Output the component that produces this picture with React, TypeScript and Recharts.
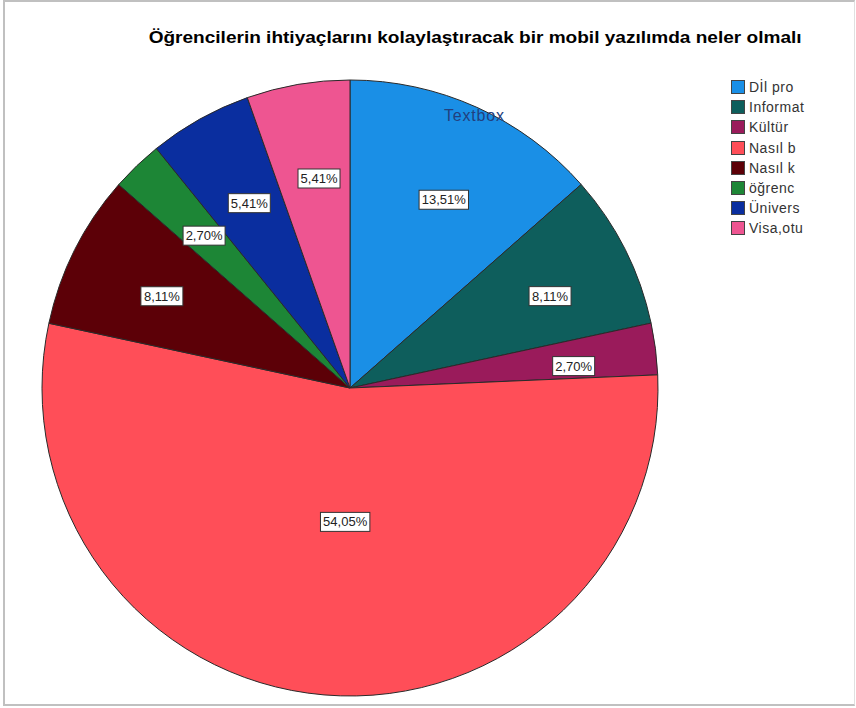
import React from "react";
import { PieChart, Pie, Cell, Legend } from "recharts";

const categories = ["Dİl pro", "Informat", "Kültür", "Nasıl b", "Nasıl k", "öğrenc", "Ünivers", "Visa,otu"];
const percents = [13.51, 8.11, 2.7, 54.05, 8.11, 2.7, 5.41, 5.41];
const colors = ["#1A8FE6", "#0E5E5C", "#9A1B5B", "#FF4E58", "#5C0007", "#1D8636", "#0A2E9F", "#EE5591"];
const title = "Öğrencilerin ihtiyaçlarını kolaylaştıracak bir mobil yazılımda neler olmalı";

const data = categories.map((name, i) => ({ name, value: percents[i] }));

const fmt = (v: number) => v.toFixed(2).replace(".", ",") + "%";

const RAD = Math.PI / 180;
const FONT = "Arial, 'Liberation Sans', sans-serif";

const renderLabel = (props: any) => {
  const { cx, cy, outerRadius, startAngle, endAngle, value } = props;
  const half = (Math.abs(endAngle - startAngle) / 2) * RAD;
  const mid = ((startAngle + endAngle) / 2) * RAD;
  const dist = ((2 * outerRadius * Math.sin(half)) / (3 * half)) * 1.07;
  const x = cx + dist * Math.cos(mid) + 6;
  const y = cy - dist * Math.sin(mid) + 6;
  const text = fmt(value);
  const w = text.length * 7.4 + 5;
  const h = 19;
  return (
    <g>
      <rect x={x - w / 2} y={y - h / 2} width={w} height={h} fill="#ffffff" stroke="#333333" strokeWidth={1} />
      <text x={x} y={y + 4.5} textAnchor="middle" fontSize={13} fontFamily={FONT} fill="#222222">
        {text}
      </text>
    </g>
  );
};

const renderLegend = () => (
  <div style={{ fontFamily: FONT, fontSize: 14, letterSpacing: 0.5, color: "#333" }}>
    {data.map((d, i) => (
      <div key={d.name} style={{ display: "flex", alignItems: "center", height: 20.2 }}>
        <div style={{ width: 12, height: 12, background: colors[i], border: "1px solid #444", marginRight: 4, flexShrink: 0 }} />
        <span style={{ whiteSpace: "nowrap" }}>{d.name}</span>
      </div>
    ))}
  </div>
);

export default function App() {
  return (
    <div
      style={{
        position: "absolute",
        left: 0,
        top: 0,
        width: 856,
        height: 708,
        background: "#fff",
        overflow: "hidden",
      }}
    >
      <div
        style={{
          position: "absolute",
          left: 3,
          top: 0,
          width: 852,
          height: 706,
          borderLeft: "2px solid #c0c0c0",
          borderTop: "2px solid #c0c0c0",
          borderBottom: "2px solid #c0c0c0",
          borderRight: "1px solid #e0e0e0",
          boxSizing: "border-box",
        }}
      />
      <div
        style={{
          position: "absolute",
          left: 0,
          width: 950,
          top: 28,
          textAlign: "center",
          fontFamily: FONT,
          fontWeight: "bold",
          fontSize: 17,
          color: "#000",
          transform: "scaleX(1.12)",
          transformOrigin: "474px 0",
        }}
      >
        {title}
      </div>
      <div style={{ position: "absolute", left: 0, top: 0 }}>
        <PieChart width={856} height={708} margin={{ top: 0, right: 0, bottom: 0, left: 0 }}>
          <Pie
            data={data}
            dataKey="value"
            nameKey="name"
            cx={350}
            cy={388}
            outerRadius={308}
            startAngle={90}
            endAngle={-270}
            stroke="#2a2a2a"
            strokeWidth={1}
            label={renderLabel}
            labelLine={false}
            isAnimationActive={false}
          >
            {data.map((d, i) => (
              <Cell key={d.name} fill={colors[i]} />
            ))}
          </Pie>
          <Legend content={renderLegend} layout="vertical" wrapperStyle={{ position: "absolute", left: 731, top: 77, width: 110 }} />
        </PieChart>
      </div>
      <div
        style={{
          position: "absolute",
          left: 444,
          top: 107,
          fontFamily: FONT,
          fontSize: 16,
          letterSpacing: 0.8,
          color: "#22407E",
        }}
      >
        Textbox
      </div>
    </div>
  );
}
